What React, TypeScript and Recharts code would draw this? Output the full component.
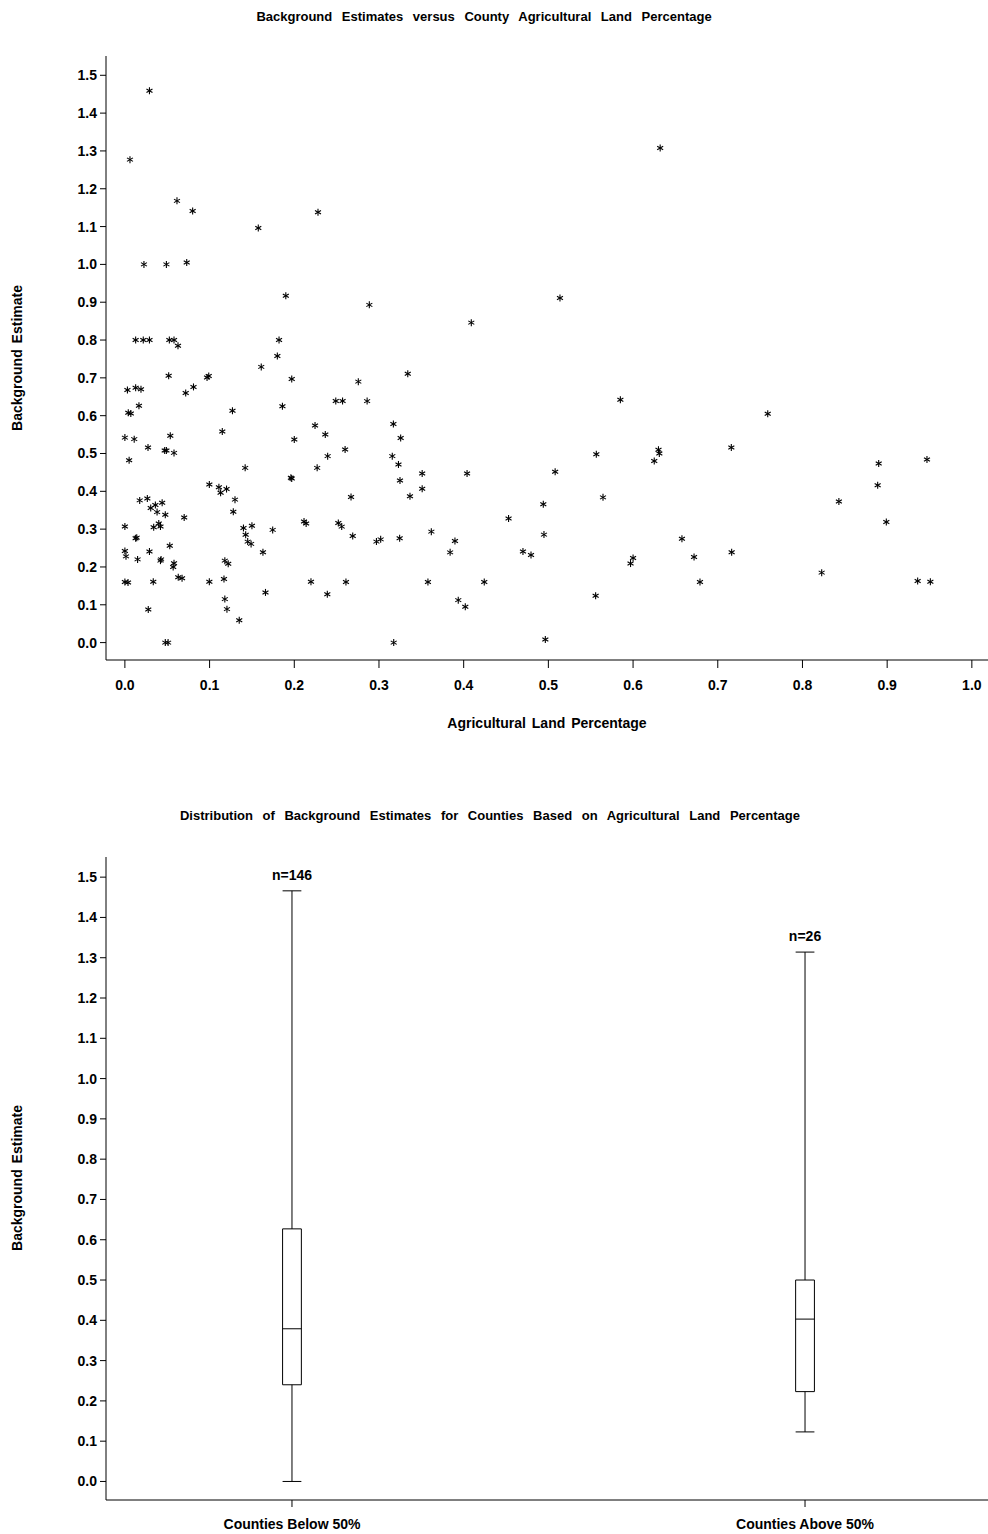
import React from "react";
import {
  ScatterChart,
  Scatter,
  XAxis,
  YAxis,
  ReferenceArea,
  ReferenceLine,
} from "recharts";

// county agricultural land share (x) and background estimate (y)
const agShare = [
  0.029, 0.006, 0.0615, 0.08, 0.228, 0.1575, 0.0225, 0.049, 0.073, 0.19,
  0.0127, 0.0217, 0.029, 0.0525, 0.058, 0.0627, 0.182, 0.18, 0.161, 0.0517,
  0.097, 0.099, 0.197, 0.003, 0.0127, 0.019, 0.0718, 0.081, 0.0166, 0.186,
  0.004, 0.007, 0.127, 0.2245, 0.115, 0.0, 0.011, 0.2, 0.0536, 0.0273,
  0.047, 0.049, 0.058, 0.005, 0.142, 0.227, 0.196, 0.197, 0.0997, 0.111,
  0.113, 0.12, 0.13, 0.128, 0.0175, 0.0265, 0.0305, 0.036, 0.044, 0.038,
  0.0477, 0.07, 0.04, 0.034, 0.042, 0.0, 0.14, 0.15, 0.1426, 0.145,
  0.149, 0.1745, 0.2115, 0.214, 0.0127, 0.014, 0.053, 0.0, 0.0013, 0.015,
  0.029, 0.042, 0.0427, 0.058, 0.057, 0.163, 0.118, 0.122, 0.063, 0.0675,
  0.0, 0.0037, 0.0335, 0.0997, 0.117, 0.2197, 0.118, 0.166, 0.0276, 0.1205,
  0.135, 0.0477, 0.051, 0.2886, 0.409, 0.334, 0.2756, 0.249, 0.257, 0.286,
  0.2366, 0.317, 0.3256, 0.26, 0.2394, 0.3157, 0.323, 0.351, 0.404, 0.3248,
  0.351, 0.3366, 0.267, 0.453, 0.252, 0.256, 0.269, 0.297, 0.302, 0.3244,
  0.3618, 0.3897, 0.384, 0.47, 0.4795, 0.261, 0.239, 0.3578, 0.4243, 0.3936,
  0.4019, 0.3174, 0.494, 0.4948, 0.4964,
  // above 50%
  0.632, 0.5137, 0.585, 0.759, 0.5566, 0.63, 0.631, 0.625, 0.716, 0.508,
  0.89, 0.947, 0.8888, 0.5645, 0.843, 0.899, 0.6577, 0.6, 0.597, 0.672,
  0.7164, 0.679, 0.8227, 0.936, 0.951, 0.5558,
];

const estimate = [
  1.459, 1.277, 1.168, 1.141, 1.138, 1.096, 1.0, 1.0, 1.005, 0.917,
  0.8, 0.8, 0.8, 0.8, 0.8, 0.785, 0.8, 0.758, 0.729, 0.7055,
  0.701, 0.705, 0.697, 0.668, 0.674, 0.67, 0.66, 0.676, 0.626, 0.625,
  0.6075, 0.606, 0.613, 0.574, 0.558, 0.542, 0.538, 0.537, 0.547, 0.516,
  0.508, 0.508, 0.5016, 0.482, 0.462, 0.462, 0.436, 0.434, 0.418, 0.411,
  0.396, 0.406, 0.378, 0.346, 0.376, 0.381, 0.356, 0.364, 0.37, 0.345,
  0.338, 0.331, 0.315, 0.305, 0.307, 0.307, 0.303, 0.309, 0.285, 0.267,
  0.261, 0.298, 0.32, 0.315, 0.276, 0.2775, 0.256, 0.242, 0.228, 0.22,
  0.241, 0.2167, 0.22, 0.21, 0.2, 0.239, 0.2167, 0.2087, 0.173, 0.17,
  0.16, 0.159, 0.161, 0.161, 0.168, 0.161, 0.115, 0.1327, 0.0877, 0.0885,
  0.059, 0.0, 0.0, 0.893, 0.846, 0.711, 0.69, 0.639, 0.639, 0.6385,
  0.55, 0.578, 0.541, 0.5106, 0.493, 0.493, 0.471, 0.447, 0.447, 0.4285,
  0.407, 0.387, 0.385, 0.328, 0.316, 0.3067, 0.282, 0.267, 0.273, 0.2757,
  0.2934, 0.2686, 0.2386, 0.241, 0.2315, 0.16, 0.128, 0.16, 0.16, 0.1123,
  0.0948, 0.0, 0.3657, 0.2855, 0.008,
  // above 50%
  1.308, 0.911, 0.642, 0.605, 0.498, 0.51, 0.5, 0.48, 0.516, 0.4515,
  0.4735, 0.484, 0.416, 0.384, 0.373, 0.319, 0.2746, 0.2235, 0.209, 0.2264,
  0.239, 0.16, 0.185, 0.163, 0.161, 0.124,
];

const xTicks = [0, 0.1, 0.2, 0.3, 0.4, 0.5, 0.6, 0.7, 0.8, 0.9, 1.0];
const yTicks = [0, 0.1, 0.2, 0.3, 0.4, 0.5, 0.6, 0.7, 0.8, 0.9, 1.0, 1.1, 1.2, 1.3, 1.4, 1.5];

// box plot summary
const groupNames = ["Counties Below 50%", "Counties Above 50%"];
const groupN = [146, 26];
const whiskerLow = [0.0, 0.123];
const quartile1 = [0.24, 0.223];
const medians = [0.379, 0.403];
const quartile3 = [0.627, 0.5];
const whiskerHigh = [1.466, 1.314];

const FONT = '"Liberation Sans", Arial, Helvetica, sans-serif';
const tickStyle = { fontSize: 14, fontWeight: 700, fill: "#000", fontFamily: FONT };
const textStyle: React.CSSProperties = {
  position: "absolute",
  fontFamily: FONT,
  fontWeight: 700,
  fontSize: 13,
  color: "#000",
  whiteSpace: "nowrap",
  wordSpacing: 2,
  transform: "translate(-50%, -50%)",
};

const scatterX: [number, number] = [-0.0223, 1.0226];
const scatterY: [number, number] = [-0.046, 1.551];
const boxX: [number, number] = [-0.3625, 1.3625];
const boxY: [number, number] = [-0.046, 1.55];
const boxHalf = 0.0183;

const points = agShare.map((x, i) => ({ x, y: estimate[i] }));
const countPoints = groupNames.map((_, i) => ({ x: i, y: whiskerHigh[i], n: groupN[i] }));

function Star(props: any) {
  const { cx, cy } = props;
  if (cx == null || cy == null) return null;
  return (
    <g stroke="#000" strokeWidth={1.1}>
      <line x1={cx} y1={cy - 3.5} x2={cx} y2={cy + 3.5} />
      <line x1={cx - 3} y1={cy - 1.75} x2={cx + 3} y2={cy + 1.75} />
      <line x1={cx - 3} y1={cy + 1.75} x2={cx + 3} y2={cy - 1.75} />
    </g>
  );
}

function CountLabel(props: any) {
  const { cx, cy, payload } = props;
  if (cx == null || cy == null) return null;
  return (
    <text x={cx} y={cy - 11} textAnchor="middle" {...tickStyle}>
      n={payload.n}
    </text>
  );
}

const fmt = (v: number) => v.toFixed(1);

export default function App() {
  return (
    <div style={{ position: "absolute", left: 0, top: 0, width: 988, height: 1534, overflow: "hidden", background: "#fff" }}>
      {/* scatter */}
      <div style={{ position: "absolute", left: 0, top: 0 }}>
        <ScatterChart width={1000} height={760} margin={{ top: 56, right: 9, bottom: 16, left: 0 }}>
          <XAxis
            type="number"
            dataKey="x"
            domain={scatterX}
            ticks={xTicks}
            tickFormatter={fmt}
            allowDataOverflow
            height={84}
            tickSize={8}
            tickMargin={12}
            stroke="#000"
            tick={tickStyle}
          />
          <XAxis xAxisId="top" orientation="top" type="number" domain={scatterX} allowDataOverflow tick={false} tickLine={false} height={0} stroke="#000" />
          <YAxis
            type="number"
            dataKey="y"
            domain={scatterY}
            ticks={yTicks}
            tickFormatter={fmt}
            allowDataOverflow
            width={106}
            tickSize={6}
            tickMargin={3}
            stroke="#000"
            tick={tickStyle}
          />
          <Scatter data={points} shape={<Star />} isAnimationActive={false} />
        </ScatterChart>
      </div>
      <div style={{ ...textStyle, left: 484, top: 16, wordSpacing: 6 }}>
        Background Estimates versus County Agricultural Land Percentage
      </div>
      <div style={{ ...textStyle, left: 547, top: 723, fontSize: 14 }}>Agricultural Land Percentage</div>
      <div style={{ ...textStyle, left: 17, top: 358, fontSize: 14, transform: "translate(-50%, -50%) rotate(-90deg)" }}>
        Background Estimate
      </div>

      {/* box plot */}
      <div style={{ position: "absolute", left: 0, top: 760 }}>
        <ScatterChart width={1000} height={774} margin={{ top: 97, right: 9, bottom: 4, left: 0 }}>
          <XAxis
            type="number"
            dataKey="x"
            domain={boxX}
            ticks={[0, 1]}
            tickFormatter={(i: number) => groupNames[i]}
            allowDataOverflow
            height={30}
            tickSize={7}
            tickMargin={12}
            stroke="#000"
            tick={tickStyle}
          />
          <XAxis xAxisId="top" orientation="top" type="number" domain={boxX} allowDataOverflow tick={false} tickLine={false} height={0} stroke="#000" />
          <YAxis
            type="number"
            dataKey="y"
            domain={boxY}
            ticks={yTicks}
            tickFormatter={fmt}
            allowDataOverflow
            width={106}
            tickSize={6}
            tickMargin={3}
            stroke="#000"
            tick={tickStyle}
          />
          {groupNames.map((name, i) => (
            <ReferenceArea
              key={name + "box"}
              x1={i - boxHalf}
              x2={i + boxHalf}
              y1={quartile1[i]}
              y2={quartile3[i]}
              fill="none"
              fillOpacity={0}
              stroke="#000"
              strokeWidth={1}
            />
          ))}
          {groupNames.map((name, i) => [
            <ReferenceLine key={name + "lo"} segment={[{ x: i, y: whiskerLow[i] }, { x: i, y: quartile1[i] }]} stroke="#000" />,
            <ReferenceLine key={name + "hi"} segment={[{ x: i, y: quartile3[i] }, { x: i, y: whiskerHigh[i] }]} stroke="#000" />,
            <ReferenceLine key={name + "med"} segment={[{ x: i - boxHalf, y: medians[i] }, { x: i + boxHalf, y: medians[i] }]} stroke="#000" />,
            <ReferenceLine key={name + "capLo"} segment={[{ x: i - boxHalf, y: whiskerLow[i] }, { x: i + boxHalf, y: whiskerLow[i] }]} stroke="#000" />,
            <ReferenceLine key={name + "capHi"} segment={[{ x: i - boxHalf, y: whiskerHigh[i] }, { x: i + boxHalf, y: whiskerHigh[i] }]} stroke="#000" />,
          ])}
          <Scatter data={countPoints} shape={<CountLabel />} isAnimationActive={false} />
        </ScatterChart>
      </div>
      <div style={{ ...textStyle, left: 490, top: 815, wordSpacing: 6 }}>
        Distribution of Background Estimates for Counties Based on Agricultural Land Percentage
      </div>
      <div style={{ ...textStyle, left: 17, top: 1178, fontSize: 14, transform: "translate(-50%, -50%) rotate(-90deg)" }}>
        Background Estimate
      </div>
    </div>
  );
}
